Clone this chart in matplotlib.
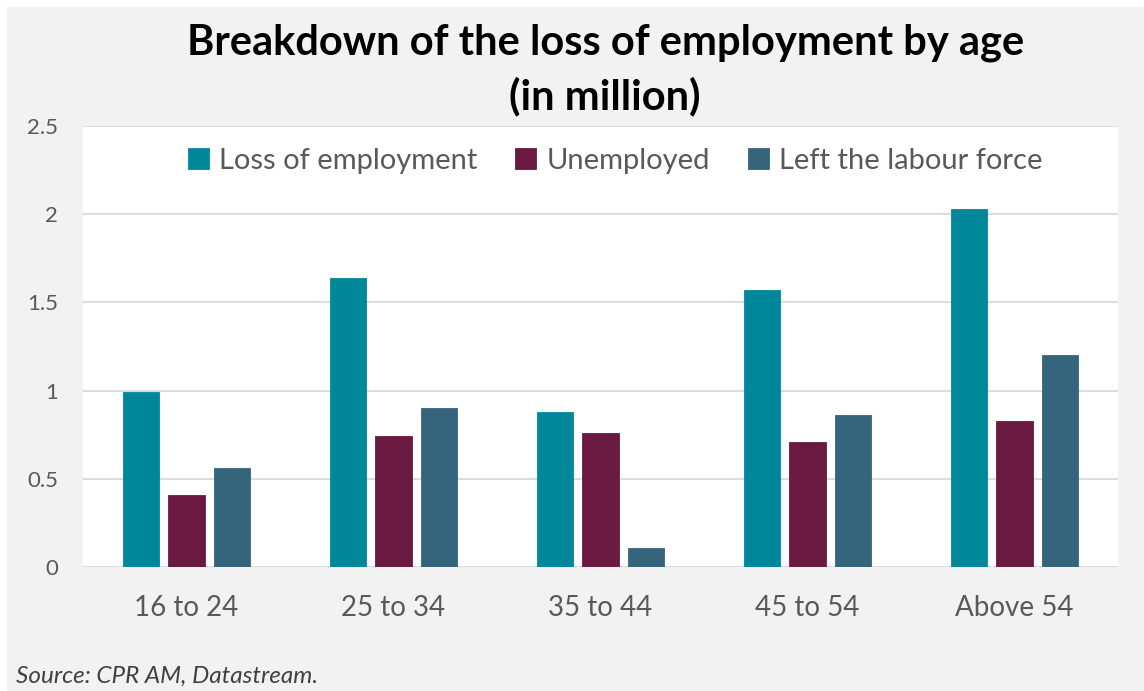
import matplotlib
matplotlib.use("Agg")
import matplotlib.pyplot as plt
from matplotlib.patches import Rectangle
import numpy as np

# Data (million persons)
age_groups = ["16 to 24", "25 to 34", "35 to 44", "45 to 54", "Above 54"]
loss_of_employment = [0.99, 1.64, 0.88, 1.57, 2.03]
unemployed = [0.41, 0.74, 0.76, 0.71, 0.83]
left_labour_force = [0.56, 0.90, 0.11, 0.86, 1.20]

series_names = ["Loss of employment", "Unemployed", "Left the labour force"]
series_colors = ["#00889A", "#6A1A41", "#35657D"]
y_ticks = [0, 0.5, 1, 1.5, 2, 2.5]
y_tick_labels = ["0", "0.5", "1", "1.5", "2", "2.5"]

plt.rcParams["font.family"] = ["Lato", "DejaVu Sans"]

W, H = 1144, 691
fig = plt.figure(figsize=(W / 100, H / 100), dpi=100)
fig.patch.set_facecolor("white")
# grey chart panel
fig.add_artist(Rectangle((7 / W, 0), 1 - 7 / W, 1 - 7 / H, transform=fig.transFigure,
                         facecolor="#F2F2F2", edgecolor="none", zorder=0))

ax = fig.add_axes([83 / W, 1 - 567 / H, (1118 - 83) / W, (567 - 126) / H])
ax.set_facecolor("white")

x = np.arange(len(age_groups))
width = 0.174
step = 0.222
for k, (vals, name, col) in enumerate(zip([loss_of_employment, unemployed, left_labour_force],
                                           series_names, series_colors)):
    ax.bar(x + (k - 1) * step, vals, width, color=col, label=name, zorder=3,
           edgecolor=col, linewidth=0.6)

ax.set_xlim(-0.5, len(age_groups) - 0.5)
ax.set_ylim(0, 2.5)
ax.set_yticks(y_ticks)
ax.set_yticklabels(y_tick_labels)
ax.set_xticks(x)
ax.set_xticklabels(age_groups)
ax.grid(axis="y", color="#D9D9D9", linewidth=1.3, zorder=1)
ax.set_axisbelow(True)
for s in ax.spines.values():
    s.set_visible(False)
ax.tick_params(axis="both", length=0, colors="#595959")
ax.tick_params(axis="x", labelsize=20, pad=20)
ax.tick_params(axis="y", labelsize=16, pad=18)
for lbl in ax.get_xticklabels() + ax.get_yticklabels():
    lbl.set_color("#595959")

leg = ax.legend(loc="center", bbox_to_anchor=(0.514, 1 - 35 / 441), ncol=3, frameon=False,
                fontsize=21, handlelength=0.72, handleheight=0.72, handletextpad=0.35,
                columnspacing=1.3, labelcolor="#595959", borderpad=0)

fig.text(606 / W, 1 - 43 / H, "Breakdown of the loss of employment by age",
         ha="center", va="center", fontsize=30, fontweight="bold", color="black")
fig.text(605 / W, 1 - 96 / H, "(in million)",
         ha="center", va="center", fontsize=30, fontweight="bold", color="black")
fig.text(16 / W, 1 - 676 / H, "Source: CPR AM, Datastream.", ha="left", va="center",
         fontsize=17.5, style="italic", color="#404040")

fig.savefig("out.png", dpi=100, facecolor=fig.get_facecolor())
